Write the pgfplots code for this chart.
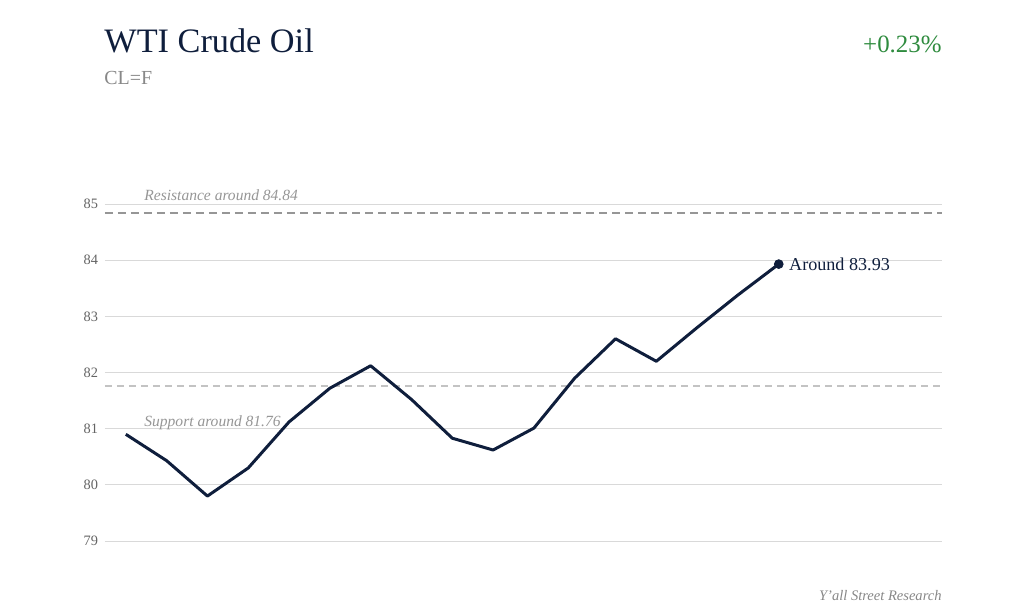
\documentclass[border=0pt]{standalone}
\usepackage{fontspec}
\setmainfont{Liberation Serif}
\usepackage{pgfplots}
\pgfplotsset{compat=1.18}

\definecolor{navy}{RGB}{15,30,60}
\definecolor{upgreen}{RGB}{46,139,62}
\definecolor{subgray}{RGB}{136,136,136}
\definecolor{tickgray}{RGB}{100,100,100}
\definecolor{gridgray}{RGB}{217,217,217}
\definecolor{resgray}{RGB}{150,150,150}
\definecolor{supgray}{RGB}{195,195,195}

\begin{document}
\begin{tikzpicture}
\begin{axis}[
  at={(0,0)}, anchor=south west,
  scale only axis,
  width=418.5bp, height=168.5bp,
  xmin=-0.51, xmax=20,
  ymin=79, ymax=85,
  ytick={79,80,81,82,83,84,85},
  xtick=\empty,
  ymajorgrids,
  grid style={gridgray, line width=0.5bp},
  axis line style={draw=none},
  major tick style={draw=none},
  /pgf/number format/assume math mode=true,
  yticklabel style={font=\fontsize{7.2}{9}\selectfont, text=tickgray},
  clip=false,
]
% resistance / support
\addplot[resgray, line width=0.9bp, dash pattern=on 4bp off 2.5bp] coordinates {(-0.51,84.84) (20,84.84)};
\addplot[supgray, line width=0.7bp, dash pattern=on 3.5bp off 2.5bp] coordinates {(-0.51,81.76) (20,81.76)};
% price
\addplot[navy, line width=1.5bp, line join=round] coordinates {
  (0,80.9) (1,80.43) (2,79.8) (3,80.3) (4,81.12) (5,81.72) (6,82.12)
  (7,81.52) (8,80.83) (9,80.62) (10,81.01) (11,81.9) (12,82.6)
  (13,82.2) (14,82.8) (15,83.38) (16,83.93)
};
\addplot[navy, only marks, mark=*, mark size=2.2bp] coordinates {(16,83.93)};
\node[anchor=west, inner sep=0pt, xshift=5bp, text=navy, font=\fontsize{9.1}{11}\selectfont] at (axis cs:16,83.93) {Around 83.93};
\end{axis}
% annotations, positions relative to the axis' lower left corner
\node[anchor=base west, inner sep=0pt, text=resgray, font=\fontsize{7.8}{10}\selectfont\itshape] at (19.5bp,170bp) {Resistance around 84.84};
\node[anchor=base west, inner sep=0pt, text=resgray, font=\fontsize{7.8}{10}\selectfont\itshape] at (19.5bp,57bp) {Support around 81.76};
\node[anchor=base west, inner sep=0pt, text=navy, font=\fontsize{17.2}{21}\selectfont] at (-0.5bp,244bp) {WTI Crude Oil};
\node[anchor=base west, inner sep=0pt, text=subgray, font=\fontsize{10}{12}\selectfont] at (-0.5bp,228bp) {CL=F};
\node[anchor=base east, inner sep=0pt, text=upgreen, font=\fontsize{12.5}{15}\selectfont] at (418.5bp,244bp) {+0.23\%};
\node[anchor=base east, inner sep=0pt, text=subgray, font=\fontsize{7.3}{9}\selectfont\itshape] at (418.5bp,-29.5bp) {Y'all Street Research};
\useasboundingbox (-52.5bp,-36.5bp) rectangle (459.5bp,270.5bp);
\end{tikzpicture}
\end{document}
